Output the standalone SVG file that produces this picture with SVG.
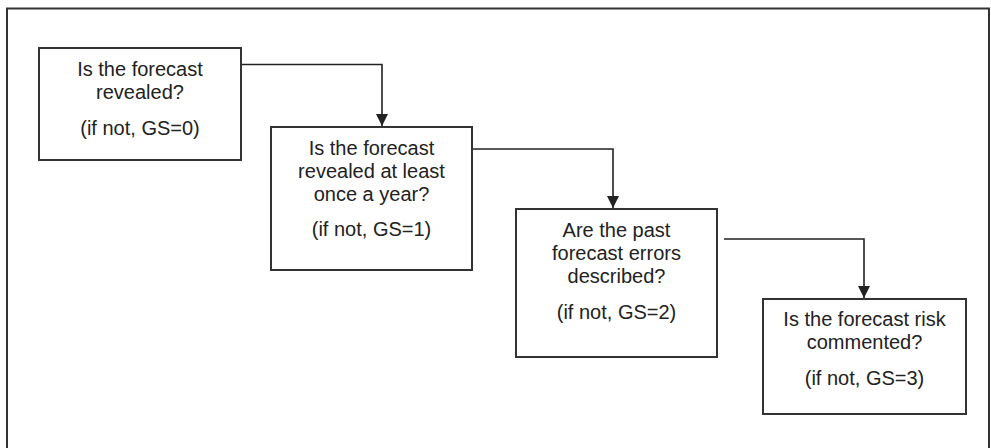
<svg xmlns="http://www.w3.org/2000/svg" width="991" height="448" viewBox="0 0 991 448">
<style>
.box{fill:#fff;stroke:#333;stroke-width:2}
.frame{fill:none;stroke:#333;stroke-width:2}
.conn{fill:none;stroke:#222;stroke-width:1.6}
text{font-family:"Liberation Sans",Arial,sans-serif;font-size:20px;fill:#222;text-anchor:middle}
</style>
<defs>
<marker id="arr" viewBox="0 0 12 12" refX="12" refY="6" markerWidth="12" markerHeight="12" markerUnits="userSpaceOnUse" orient="auto">
<path d="M0,0 L12,6 L0,12 Z" fill="#222"/>
</marker>
</defs>
<rect class="frame" x="7" y="8.5" width="982" height="470"/>
<g id="connectors">
<path class="conn" d="M241,64.5 H382 V126" marker-end="url(#arr)"/>
<path class="conn" d="M472,149 H613 V208" marker-end="url(#arr)"/>
<path class="conn" d="M724,239 H864 V298" marker-end="url(#arr)"/>
</g>
<g id="n1">
<rect class="box" x="39" y="48" width="202" height="112"/>
<text x="140" y="76">Is the forecast</text>
<text x="140" y="99">revealed?</text>
<text x="140" y="135">(if not, GS=0)</text>
</g>
<g id="n2">
<rect class="box" x="271" y="127" width="201" height="143"/>
<text x="371.5" y="155">Is the forecast</text>
<text x="371.5" y="178">revealed at least</text>
<text x="371.5" y="201">once a year?</text>
<text x="371.5" y="236">(if not, GS=1)</text>
</g>
<g id="n3">
<rect class="box" x="516" y="209" width="201" height="148"/>
<text x="616.5" y="237">Are the past</text>
<text x="616.5" y="260">forecast errors</text>
<text x="616.5" y="283">described?</text>
<text x="616.5" y="319">(if not, GS=2)</text>
</g>
<g id="n4">
<rect class="box" x="763" y="299" width="203" height="115"/>
<text x="864.5" y="326">Is the forecast risk</text>
<text x="864.5" y="349">commented?</text>
<text x="864.5" y="385">(if not, GS=3)</text>
</g>
</svg>
